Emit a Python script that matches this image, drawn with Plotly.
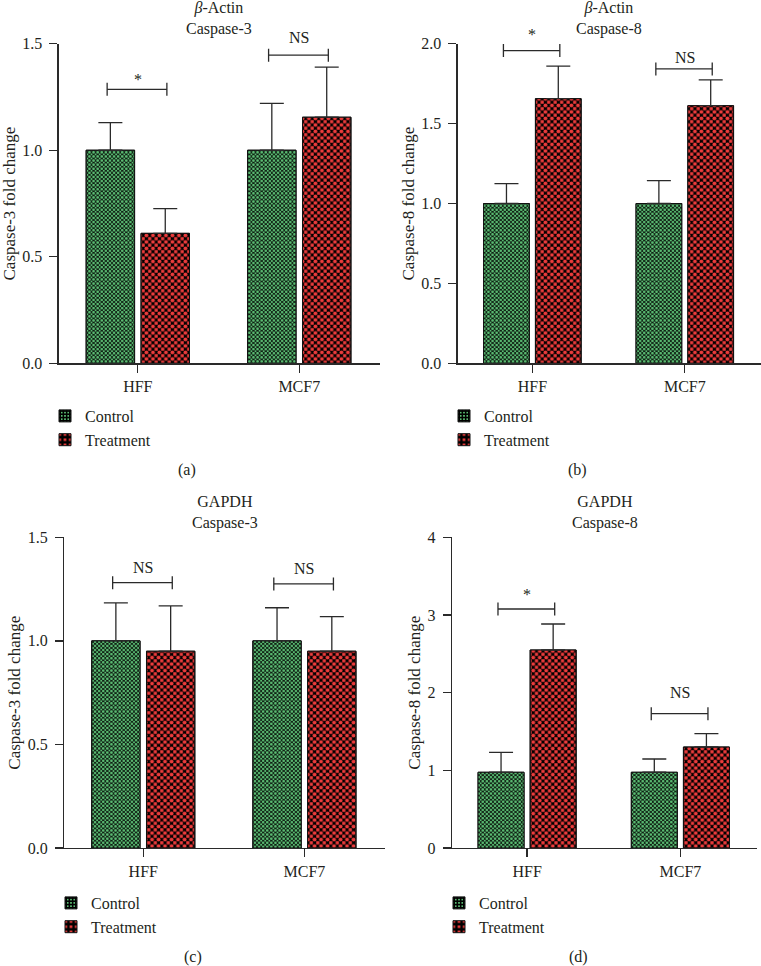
import plotly.graph_objects as go

W, H = 761, 966
FONT = "Liberation Serif"
TXT = "#231f20"
AX = "#2a2a2a"
GREEN = "#5abb72"
RED = "#ee3c3c"

# ---------------- data ----------------
cells = ["HFF", "MCF7"]
groups = ["Control", "Treatment"]

titles_ref = ["<i>β</i>-Actin", "<i>β</i>-Actin", "GAPDH", "GAPDH"]
titles_gene = ["Caspase-3", "Caspase-8", "Caspase-3", "Caspase-8"]
y_titles = ["Caspase-3 fold change", "Caspase-8 fold change",
            "Caspase-3 fold change", "Caspase-8 fold change"]
panel_tags = ["(a)", "(b)", "(c)", "(d)"]

a_control = [1.00, 1.00]
a_control_sem = [0.13, 0.22]
a_treatment = [0.61, 1.155]
a_treatment_sem = [0.116, 0.235]

b_control = [1.00, 1.00]
b_control_sem = [0.124, 0.143]
b_treatment = [1.656, 1.612]
b_treatment_sem = [0.204, 0.161]

c_control = [1.00, 1.00]
c_control_sem = [0.183, 0.16]
c_treatment = [0.95, 0.95]
c_treatment_sem = [0.219, 0.167]

d_control = [0.975, 0.975]
d_control_sem = [0.257, 0.171]
d_treatment = [2.549, 1.30]
d_treatment_sem = [0.335, 0.172]

sig_a = ["*", "NS"]
sig_b = ["*", "NS"]
sig_c = ["NS", "NS"]
sig_d = ["*", "NS"]
sig_height_a = [1.286, 1.446]
sig_height_b = [1.957, 1.842]
sig_height_c = [1.281, 1.275]
sig_height_d = [3.077, 1.729]

y_max = [1.5, 2.0, 1.5, 4.0]
y_step = [0.5, 0.5, 0.5, 1.0]
y_fmt = [".1f", ".1f", ".1f", "d"]

panels = [
    (a_control, a_control_sem, a_treatment, a_treatment_sem, sig_a, sig_height_a),
    (b_control, b_control_sem, b_treatment, b_treatment_sem, sig_b, sig_height_b),
    (c_control, c_control_sem, c_treatment, c_treatment_sem, sig_c, sig_height_c),
    (d_control, d_control_sem, d_treatment, d_treatment_sem, sig_d, sig_height_d),
]

# ---------------- layout geometry (pixels) ----------------
boxes = [(58.7, 380.0, 43.7, 363.3), (457.7, 761.0, 43.7, 363.3),
         (64.3, 385.0, 537.3, 848.0), (452.0, 757.0, 537.3, 848.0)]
ytitle_x = [9, 408, 15, 415]
title_y = [18.5, 18.0, 512.0, 512.0]
legend_pos = [(45, 399), (444, 399), (51, 886), (439, 886)]
tag_pos = [(187, 470), (577, 470), (193, 957), (578, 957)]
# label offsets above bracket (px), per panel
label_shift = [(10, 17.6), (16.4, 11.7), (15.4, 15.4), (14, 21.4)]


def px(xp):
    return xp / W


def py(yp):
    return 1 - yp / H


fig = go.Figure()

bar_w = 0.30
offsets = [-0.32, 0.02]
colors = [GREEN, RED]
psize = [4.1, 6.5]
dot_sol = [0.36, 0.28]

layout = dict(
    template="none",
    width=W, height=H, margin=dict(l=0, r=0, t=0, b=0, autoexpand=False),
    paper_bgcolor="white", plot_bgcolor="white",
    barmode="overlay", font=dict(family=FONT, size=16, color=TXT),
    showlegend=True,
)
annotations = []
shapes = []

for k, (ctl, ctl_sem, trt, trt_sem, sig, sig_h) in enumerate(panels):
    n = "" if k == 0 else str(k + 1)
    xa, ya = "x" + n, "y" + n
    lg = "legend" + n
    x0p, x1p, ytp, ybp = boxes[k]
    layout["xaxis" + n] = dict(
        domain=[px(x0p), px(x1p)], range=[-0.49, 1.5], anchor=ya,
        type="category", categoryorder="array", categoryarray=cells,
        showline=True, linecolor=AX, linewidth=1.3, automargin=False,
        ticks="outside", ticklen=8, tickwidth=1.3, tickcolor=AX,
        showgrid=False, zeroline=False, fixedrange=True,
        tickfont=dict(family=FONT, size=16, color=TXT),
    )
    layout["yaxis" + n] = dict(
        domain=[py(ybp), py(ytp)], range=[0, y_max[k]], anchor=xa,
        dtick=y_step[k], tick0=0, tickformat=y_fmt[k],
        showline=True, linecolor=AX, linewidth=1.3, automargin=False,
        ticks="outside", ticklen=8, tickwidth=1.3, tickcolor=AX,
        showgrid=False, zeroline=False, fixedrange=True,
        ticklabelstandoff=4,
        tickfont=dict(family=FONT, size=16, color=TXT),
    )
    vals = [ctl, trt]
    sems = [ctl_sem, trt_sem]
    for g in range(2):
        col = colors[g]
        # base checker layer
        fig.add_trace(go.Bar(
            x=cells, y=vals[g], name=groups[g], offset=offsets[g], width=bar_w,
            xaxis=xa, yaxis=ya, legend=lg, showlegend=True,
            marker=dict(color=col, line=dict(color="#111111", width=1),
                        pattern=dict(shape="+", fgcolor="#000000", bgcolor=col,
                                     size=psize[g], solidity=0.75, fillmode="replace")),
            hoverinfo="skip",
        ))
        # second checker layer + error bars
        fig.add_trace(go.Bar(
            x=cells, y=vals[g], name=groups[g], offset=offsets[g], width=bar_w,
            xaxis=xa, yaxis=ya, legend=lg, showlegend=False,
            marker=dict(color=col, line=dict(color="#111111", width=1),
                        pattern=dict(shape=".", fgcolor=col, bgcolor="rgba(0,0,0,0)",
                                     size=psize[g], solidity=dot_sol[g], fillmode="replace")),
            error_y=dict(type="data", array=sems[g], arrayminus=[0, 0], symmetric=False,
                         color=AX, thickness=1.3, width=12),
            hoverinfo="skip",
        ))
    # significance brackets
    for i in range(2):
        xl, xr = i - 0.19, i + 0.18
        h = sig_h[i]
        shapes.append(dict(type="line", xref=xa, yref=ya, x0=xl, x1=xr, y0=h, y1=h,
                           line=dict(color=AX, width=1.3)))
        for xe in (xl, xr):
            shapes.append(dict(type="line", xref=xa, yref=ya, x0=xe, x1=xe,
                               ysizemode="pixel", yanchor=h, y0=-6.5, y1=6.5,
                               line=dict(color=AX, width=1.3)))
        annotations.append(dict(xref=xa, yref=ya, x=i, y=h, text=sig[i], showarrow=False,
                                yanchor="middle", yshift=label_shift[k][i],
                                font=dict(family=FONT, size=16, color=TXT)))
    # titles
    annotations.append(dict(xref="paper", yref="paper", x=px((x0p + x1p) / 2), y=py(title_y[k]),
                            text=titles_ref[k] + "<br>" + titles_gene[k], showarrow=False,
                            xanchor="center", yanchor="middle",
                            font=dict(family=FONT, size=16, color=TXT)))
    # y title
    annotations.append(dict(xref="paper", yref="paper", x=px(ytitle_x[k]), y=py((ytp + ybp) / 2),
                            text=y_titles[k], showarrow=False, textangle=-90,
                            xanchor="center", yanchor="middle",
                            font=dict(family=FONT, size=17, color=TXT)))
    # panel tag
    annotations.append(dict(xref="paper", yref="paper", x=px(tag_pos[k][0]), y=py(tag_pos[k][1]),
                            text=panel_tags[k], showarrow=False,
                            xanchor="center", yanchor="middle",
                            font=dict(family=FONT, size=16, color=TXT)))
    lx, ly = legend_pos[k]
    layout[lg] = dict(x=px(lx), y=py(ly), xanchor="left", yanchor="top",
                      bgcolor="rgba(0,0,0,0)", borderwidth=0, itemwidth=30,
                      traceorder="normal", tracegroupgap=0,
                      font=dict(family=FONT, size=16, color=TXT))

layout["annotations"] = annotations
layout["shapes"] = shapes
fig.update_layout(**layout)
fig.write_html("out.html", config={"displayModeBar": False, "staticPlot": True},
               post_script="document.body.style.margin='0';document.body.style.padding='0';")
